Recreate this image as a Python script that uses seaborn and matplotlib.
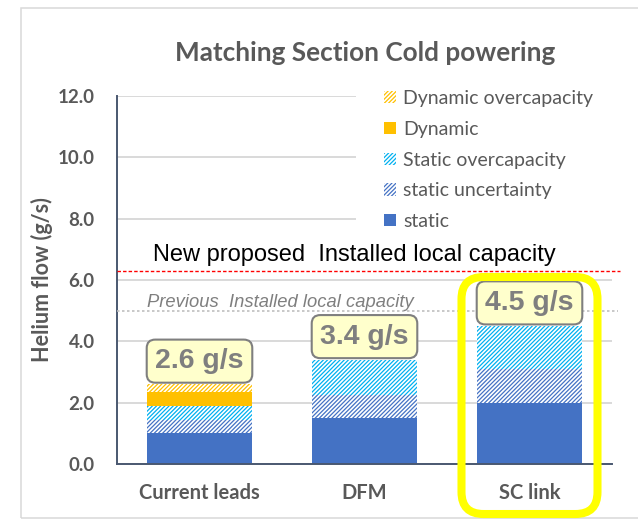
import matplotlib
matplotlib.use("Agg")
import matplotlib.pyplot as plt
import seaborn as sns
import pandas as pd
from matplotlib.patches import FancyBboxPatch, Rectangle
from matplotlib.transforms import IdentityTransform

# Helium flow budget per cold-powering option (g/s)
categories = ["Current leads", "DFM", "SC link"]
static = [1.0, 1.5, 2.0]
static_uncertainty = [0.45, 0.75, 1.1]
static_overcapacity = [0.45, 1.15, 1.4]
dynamic = [0.45, 0.0, 0.0]
dynamic_overcapacity = [0.25, 0.0, 0.0]
total_values = [2.6, 3.4, 4.5]
total_labels = ["2.6 g/s", "3.4 g/s", "4.5 g/s"]
new_capacity = 6.3
previous_capacity = 5.0
yticks = [0, 2, 4, 6, 8, 10, 12]

sns.set_theme(style="white")
plt.rcParams["font.family"] = ["Lato", "DejaVu Sans"]
plt.rcParams["hatch.linewidth"] = 0.9

W, H = 638, 520
fig = plt.figure(figsize=(W / 100, H / 100), dpi=100)
ax = fig.add_axes([117 / W, 56 / H, 495 / W, 368 / H])

df = pd.DataFrame({
    "category": categories,
    "static": static,
    "static_uncertainty": static_uncertainty,
    "static_overcapacity": static_overcapacity,
    "dynamic": dynamic,
    "dynamic_overcapacity": dynamic_overcapacity,
})

layers = [
    ("static", "#4472c4", None, "static"),
    ("static_uncertainty", "#4472c4", "////////", "static uncertainty"),
    ("static_overcapacity", "#00b0f0", "////////", "Static overcapacity"),
    ("dynamic", "#ffc000", None, "Dynamic"),
    ("dynamic_overcapacity", "#ffc000", "////////", "Dynamic overcapacity"),
]

bottom = [0.0] * len(categories)
for col, color, hatch, label in layers:
    sns.barplot(data=df, x="category", y=col, color=color, width=0.64,
                bottom=bottom, label=label, ax=ax, saturation=1,
                errorbar=None, zorder=2)
    for p in ax.containers[-1].patches:
        if hatch:
            p.set_facecolor("white")
            p.set_edgecolor(color)
            p.set_hatch(hatch)
        else:
            p.set_facecolor(color)
            p.set_edgecolor(color)
        p.set_linewidth(0)
    bottom = [b + v for b, v in zip(bottom, df[col])]

ax.set_xlim(-0.5, 2.5)
ax.set_ylim(0, 12)
ax.set_autoscale_on(False)
ax.set_yticks(yticks)
ax.set_yticklabels([f"{v:.1f}" for v in yticks])
ax.set_xlabel("")
ax.set_ylabel("Helium flow (g/s)", fontsize=15.5, fontweight="bold", color="#595959")
ax.yaxis.set_label_coords(-0.129, 0.5)
ax.set_axisbelow(True)
ax.yaxis.grid(True, color="#d9d9d9", lw=1.4)
for side in ("top", "right"):
    ax.spines[side].set_visible(False)
for side in ("left", "bottom"):
    ax.spines[side].set_color("#4a5870")
    ax.spines[side].set_linewidth(1.4)
ax.tick_params(axis="both", length=0, labelcolor="#595959")
ax.tick_params(axis="x", pad=14, labelsize=14.5)
ax.tick_params(axis="y", pad=16, labelsize=13.5)
for t in ax.get_xticklabels() + ax.get_yticklabels():
    t.set_fontweight("bold")

# Capacity reference lines
ax.axhline(new_capacity, xmin=0, xmax=1.016, color="red", lw=1.0,
           ls=(0, (2.5, 1.5)), clip_on=False, zorder=3)
ax.axhline(previous_capacity, xmin=0, xmax=1.013, color="#bfbfbf", lw=1.2,
           ls=(0, (1.5, 1.5)), clip_on=False, zorder=3)
ax.text(-0.282, 6.63, "New proposed  Installed local capacity",
        family="Liberation Sans", fontsize=17, color="black", va="baseline",
        zorder=6)
ax.text(-0.318, 5.13, "Previous  Installed local capacity",
        family="Liberation Sans", fontsize=13.2, style="italic",
        color="#7f7f7f", va="baseline", zorder=6)

# Total labels above each bar
for i, (tot, lab) in enumerate(zip(total_values, total_labels)):
    ax.text(i, tot + 0.33, lab, ha="center", va="bottom",
            family="Liberation Sans", fontsize=20.5, fontweight="bold",
            color="#7f7f7f", zorder=5,
            bbox=dict(boxstyle="round,pad=0.3,rounding_size=0.3",
                      facecolor="#ffffcc", edgecolor="#7f7f7f", lw=1.5))

# White backing behind the legend, hiding the gridlines there
ax.add_patch(Rectangle((356, 520 - 236), 264, 156,
                       transform=IdentityTransform(), facecolor="white",
                       edgecolor="none", zorder=1, clip_on=False))

# Legend (top layer first)
handles, labels = ax.get_legend_handles_labels()
leg = ax.legend(handles[::-1], labels[::-1], loc="upper left",
                bbox_to_anchor=(347 / W, 1 - 53 / H),
                bbox_transform=fig.transFigure, fontsize=14,
                handlelength=0.6, handleheight=0.6, handletextpad=0.4,
                labelspacing=0.71, borderpad=1.4, frameon=False)
for t in leg.get_texts():
    t.set_color("#595959")

fig.text(365 / W, 1 - 53 / H, "Matching Section Cold powering",
         ha="center", va="center", fontsize=18.8, fontweight="bold",
         color="#595959", zorder=20)

# Chart frame and highlight around the SC link option
frame = Rectangle((20.5, 2), 700, 510.5, transform=IdentityTransform(),
                  fill=False, edgecolor="#d9d9d9", lw=1.1, zorder=0)
fig.add_artist(frame)
highlight = FancyBboxPatch((461.5, 6), 136, 237,
                           boxstyle="round,pad=0,rounding_size=22",
                           transform=IdentityTransform(), fill=False,
                           edgecolor="#ffff00", lw=5.8, zorder=10)
fig.add_artist(highlight)

fig.savefig("out.png", dpi=100)
